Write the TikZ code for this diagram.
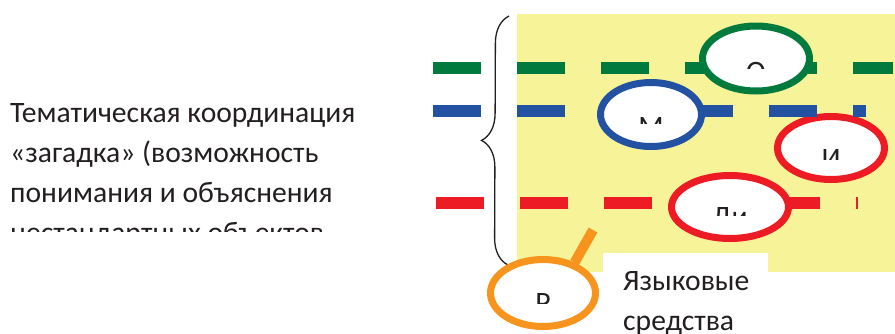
\documentclass[tikz,border=0pt]{standalone}
\usepackage{fontspec}
\setmainfont{Carlito}
\usepackage{xcolor}
\definecolor{forest}{RGB}{0,122,61}
\definecolor{cobalt}{RGB}{35,82,163}
\definecolor{scarlet}{RGB}{237,28,36}
\definecolor{tangerine}{RGB}{247,148,29}
\definecolor{lemon}{RGB}{246,243,152}
\definecolor{ink}{RGB}{35,31,32}
\usetikzlibrary{shapes.geometric,decorations.pathreplacing}

\begin{document}
\begin{tikzpicture}[x=1pt,y=-1pt,
    dashline/.style={line width=11.5pt,dash pattern=on 48pt off 36pt},
    ring/.style={draw=#1,line width=7pt,fill=white,ellipse,inner sep=0pt},
    bigtext/.style={text=ink,font=\fontsize{29.6}{40}\selectfont,inner sep=0pt}
  ]
  \useasboundingbox (0,0) rectangle (895,333);
  \clip (0,0) rectangle (895,333);
  \fill[lemon] (517,14) rectangle (895,272);
  \fill[white] (603,253) rectangle (768,333);

  \node[ring=scarlet,minimum width=107,minimum height=63] (iE) at (831,148) {};
  \draw[dashline,forest] (433,68) -- (893,68);
  \draw[dashline,cobalt] (433,111) -- (866,111);
  \draw[dashline,scarlet] (436,203) -- (858,203);

  \node[ring=forest,minimum width=107,minimum height=65] (oE) at (756,58.5) {};
  \node[ring=cobalt,minimum width=101,minimum height=64] (mE) at (651,114.5) {};
  \node[ring=scarlet,minimum width=117,minimum height=63] (dE) at (730,207) {};

  \draw[ink,line width=1.3pt,decorate,decoration={brace,amplitude=27pt}] (508,265) -- (509,16);

  \node[ring=tangerine,minimum width=105,minimum height=67] (rE) at (543,293) {};
  \coordinate (grip) at (593,230);
  \draw[tangerine,line width=10pt] (rE.44) -- (grip);

  \foreach \word/\cx/\base/\cut in {О/756/81/68,М/651/136/123,И/831/168/159,Ди/730/226/215,Р/543/312/303}
  {
    \begin{scope}
      \clip (\cx-60,\cut-40) rectangle (\cx+60,\cut);
      \node[bigtext,anchor=base] (w\cx) at (\cx,\base) {\word};
    \end{scope}
  }

  \begin{scope}
    \clip (0,0) rectangle (420,231);
    \node[bigtext,anchor=base west,align=left] (theme) at (10,242)
      {Тематическая координация\\«загадка» (возможность\\понимания и объяснения\\нестандартных объектов};
  \end{scope}
  \node[bigtext,anchor=base west,align=left] (means) at (623,330) {Языковые\\средства};
\end{tikzpicture}
\end{document}
